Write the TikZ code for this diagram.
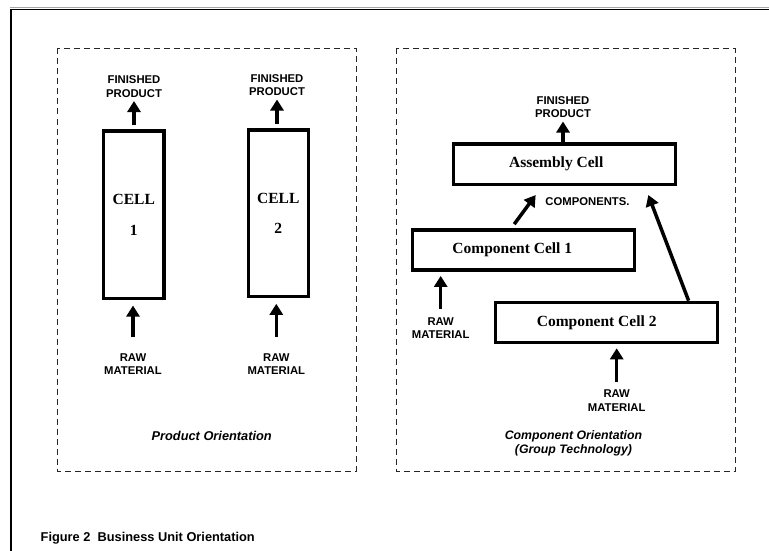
\documentclass[tikz,border=0pt]{standalone}
\usepackage{fontspec}
\setmainfont{Liberation Serif}
\setsansfont{Liberation Sans}
\usetikzlibrary{arrows.meta}
\tikzstyle{cellbox}=[draw,line width=3.2pt,inner sep=0pt,align=center,font=\fontsize{15.5}{18}\selectfont\rmfamily\bfseries]
\tikzstyle{tag}=[inner sep=3.5pt,align=center,font=\fontsize{11.3}{13.5}\selectfont\sffamily\bfseries]
\tikzstyle{caption}=[inner sep=0pt,align=center,font=\fontsize{12.3}{14.5}\selectfont\sffamily\bfseries\itshape]
\tikzstyle{flow}=[line width=3.5pt,-{Triangle[width=13pt,length=11pt]}]
\tikzstyle{panel}=[draw=black!85,line width=0.9pt,dash pattern=on 6pt off 4pt]

\begin{document}
\begin{tikzpicture}[x=1pt,y=-1pt]
  \useasboundingbox (0,0) rectangle (769,551);
  % page frame
  \draw[black!35,line width=0.8pt] (10,7.5) -- (769,7.5);
  \draw[line width=1.6pt] (10.7,551) -- (10.7,9.7) -- (769,9.7);
  \draw[panel] (57.5,48.5) rectangle (356,471);
  \draw[panel] (396,48.5) rectangle (735,471);

  % product orientation
  \node(cell1)[cellbox,minimum width=60.5pt,minimum height=167.5pt] at (133.8,214.7) {CELL\\[12.5pt]1};
  \node(cell2)[cellbox,minimum width=60pt,minimum height=166.8pt] at (278.3,213.3) {CELL\\[12.5pt]2};
  \node(fp1)[tag,anchor=south] at (134,101) {FINISHED\\PRODUCT};
  \node(fp2)[tag,anchor=south] at (277,99.5) {FINISHED\\PRODUCT};
  \node(raw1)[tag,anchor=north] at (133,349.8) {RAW\\MATERIAL};
  \node(raw2)[tag,anchor=north] at (276.3,349.8) {RAW\\MATERIAL};
  \node(po)[caption,font=\fontsize{12.8}{14.5}\selectfont\sffamily\bfseries\itshape] at (211.7,436) {Product Orientation};

  % component orientation
  \node(asm)[cellbox,minimum width=221.8pt,minimum height=40.5pt,
    label={[xshift=-8pt,font=\fontsize{15.5}{18}\selectfont\rmfamily\bfseries]center:Assembly Cell}] at (564.2,164.2) {};
  \node(cc1)[cellbox,minimum width=222pt,minimum height=40pt,
    label={[xshift=-11pt,font=\fontsize{15.5}{18}\selectfont\rmfamily\bfseries]center:Component Cell 1}] at (523.3,250) {};
  \node(cc2)[cellbox,minimum width=222pt,minimum height=40.4pt,
    label={[xshift=-10pt,font=\fontsize{15.5}{18}\selectfont\rmfamily\bfseries]center:Component Cell 2}] at (606.7,322.5) {};
  \node(fp3)[tag,anchor=south] at (563,121.5) {FINISHED\\PRODUCT};
  \node(comp)[tag] at (587.5,202) {COMPONENTS.};
  \node(raw3)[tag,anchor=north] at (440.7,313.8) {RAW\\MATERIAL};
  \node(raw4)[tag,anchor=north] at (616.7,386.5) {RAW\\MATERIAL};
  \node(co)[caption] at (573.5,443.5) {Component Orientation\\(Group Technology)};

  \draw[flow,shorten <=4pt] (fp1.south |- cell1.north) -- (fp1.south);
  \draw[flow,shorten <=4pt] (fp2.south |- cell2.north) -- (fp2.south);
  \draw[flow] (fp3.south |- asm.north) -- (fp3.south);
  \draw[flow,shorten <=12.8pt,shorten >=5.5pt] (raw1.north) -- (raw1.north |- cell1.south);
  \draw[flow,shorten <=12.8pt,shorten >=5.5pt] (raw2.north) -- (raw2.north |- cell2.south);
  \draw[flow,shorten <=4.8pt,shorten >=4.3pt] (raw3.north) -- (raw3.north |- cc1.south);
  \draw[flow,shorten <=4.8pt,shorten >=4pt] (raw4.north) -- (raw4.north |- cc2.south);
  \draw[flow,shorten <=5.3pt,shorten >=11.2pt] ([xshift=-12.2pt]cc1.north) -- ([xshift=-21.9pt]asm.south);
  \draw[flow,shorten >=9.6pt] ([xshift=81.9pt]cc2.north) -- ([xshift=80.7pt]asm.south);

  \node(fig)[anchor=base west,inner sep=0pt,font=\fontsize{12.8}{14}\selectfont\sffamily\bfseries] at (40.5,541.5) {Figure 2\ \ Business Unit Orientation};
\end{tikzpicture}
\end{document}
